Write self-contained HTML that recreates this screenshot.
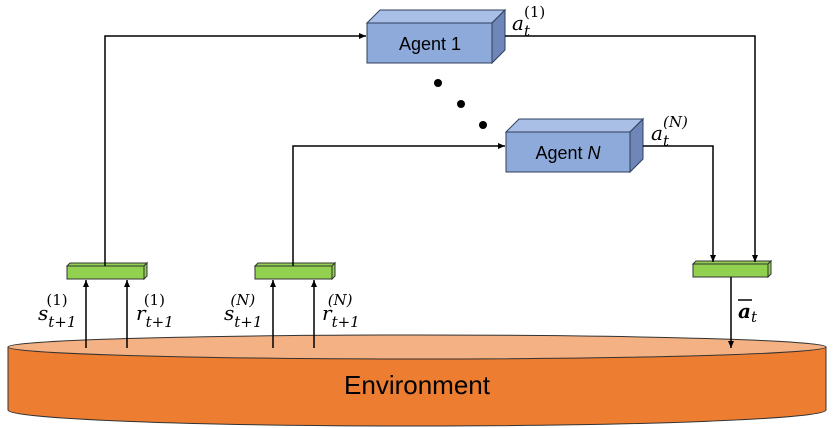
<!DOCTYPE html>
<html><head><style>body{margin:0;background:#fff}svg{display:block}</style></head><body>
<svg width="833" height="428" viewBox="0 0 833 428" xmlns="http://www.w3.org/2000/svg" font-family="Liberation Sans, sans-serif">
<defs><marker id="a" markerWidth="8" markerHeight="8" refX="7" refY="4" orient="auto" markerUnits="userSpaceOnUse"><path d="M0,1 L7,4 L0,7z" fill="#000"/></marker></defs>
<path d="M8,347 L8,410 A409,16 0 0 0 826,410 L826,347 Z" fill="#ed7d31" stroke="#333" stroke-width="1"/>
<ellipse cx="417" cy="347" rx="409" ry="12" fill="#f4b183" stroke="#333" stroke-width="1"/>
<text x="417" y="394" font-size="26" text-anchor="middle">Environment</text>
<polygon points="367,23 380,10 505,10 492,23" fill="#a9bfe6" stroke="#2f3f5f"/>
<polygon points="492,23 505,10 505,50 492,63" fill="#6f86b8" stroke="#2f3f5f"/>
<rect x="367" y="23" width="125" height="40" fill="#8eaadb" stroke="#2f3f5f"/>
<text x="430" y="50" font-size="18" text-anchor="middle">Agent 1</text>
<polygon points="506,132 519,119 643,119 630,132" fill="#a9bfe6" stroke="#2f3f5f"/>
<polygon points="630,132 643,119 643,159 630,172" fill="#6f86b8" stroke="#2f3f5f"/>
<rect x="506" y="132" width="124" height="40" fill="#8eaadb" stroke="#2f3f5f"/>
<text x="568" y="159" font-size="18" text-anchor="middle">Agent <tspan font-style="italic">N</tspan></text>
<circle cx="438" cy="83" r="4"/><circle cx="461" cy="104" r="4"/><circle cx="483" cy="125" r="4"/>
<g fill="#92d050" stroke="#333">
<polygon points="67,266 70,263 147,263 144,266"/><polygon points="144,266 147,263 147,276 144,279"/><rect x="67" y="266" width="77" height="13"/>
<polygon points="255,266 258,263 335,263 332,266"/><polygon points="332,266 335,263 335,276 332,279"/><rect x="255" y="266" width="77" height="13"/>
<polygon points="693,264 696,261 771,261 768,264"/><polygon points="768,264 771,261 771,274 768,277"/><rect x="693" y="264" width="75" height="13"/>
</g>
<g stroke="#000" stroke-width="1.5" fill="none">
<polyline points="105,266 105,36 366,36" marker-end="url(#a)"/>
<polyline points="293,266 293,146 505,146" marker-end="url(#a)"/>
<polyline points="505,36 755,36 755,262" marker-end="url(#a)"/>
<polyline points="643,146 713,146 713,262" marker-end="url(#a)"/>
<line x1="731" y1="277" x2="731" y2="348" marker-end="url(#a)"/>
<line x1="86" y1="348" x2="86" y2="280" marker-end="url(#a)"/>
<line x1="127" y1="348" x2="127" y2="280" marker-end="url(#a)"/>
<line x1="273" y1="348" x2="273" y2="280" marker-end="url(#a)"/>
<line x1="314" y1="348" x2="314" y2="280" marker-end="url(#a)"/>
</g>
<g font-family="DejaVu Serif, serif" font-style="italic" font-size="20">
<text x="512" y="30">a<tspan font-size="15" dy="6">t</tspan><tspan font-size="15" font-style="normal" dx="-6" dy="-19">(1)</tspan></text>
<text x="651" y="140">a<tspan font-size="15" dy="6">t</tspan><tspan font-size="15" dx="-6" dy="-19">(N)</tspan></text>
<text x="38" y="320">s<tspan font-size="15" dy="7">t+1</tspan><tspan font-size="15" font-style="normal" dx="-30" dy="-22">(1)</tspan></text>
<text x="136" y="320">r<tspan font-size="15" dy="7">t+1</tspan><tspan font-size="15" font-style="normal" dx="-30" dy="-22">(1)</tspan></text>
<text x="224" y="320">s<tspan font-size="15" dy="7">t+1</tspan><tspan font-size="15" dx="-32" dy="-22">(N)</tspan></text>
<text x="322" y="320">r<tspan font-size="15" dy="7">t+1</tspan><tspan font-size="15" dx="-32" dy="-22">(N)</tspan></text>
<text x="738" y="318" font-weight="bold">a<tspan font-size="15" font-weight="normal" dy="4">t</tspan></text>
</g>
<line x1="738" y1="300" x2="752" y2="300" stroke="#000" stroke-width="1.5"/>
</svg>
</body></html>
